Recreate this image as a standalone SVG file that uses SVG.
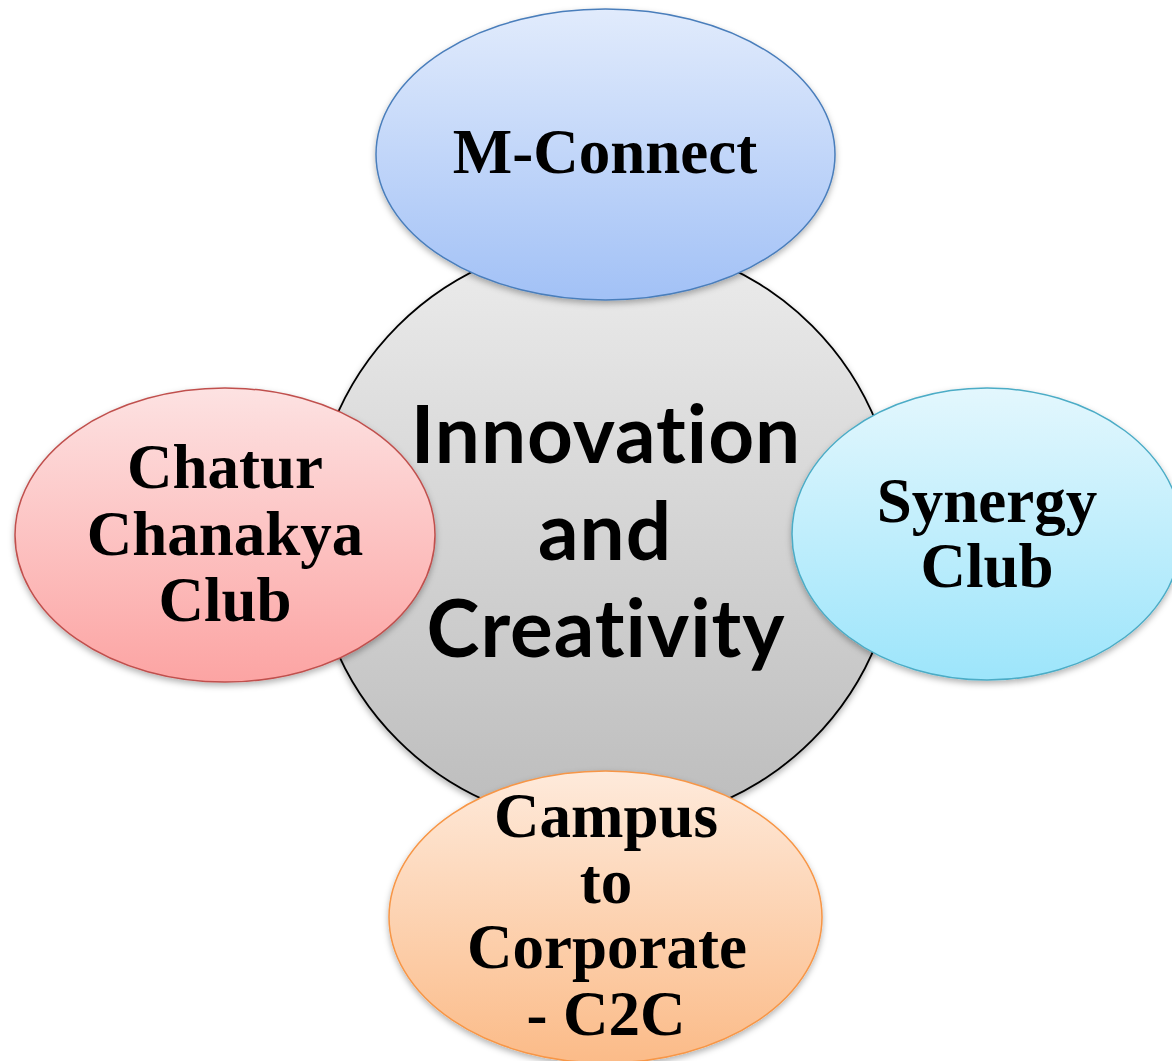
<svg xmlns="http://www.w3.org/2000/svg" width="1172" height="1061" viewBox="0 0 1172 1061">
<defs>
<linearGradient id="gCenter" x1="0" y1="0" x2="0" y2="1"><stop offset="0" stop-color="#ececec"/><stop offset="1" stop-color="#bcbcbc"/></linearGradient>
<linearGradient id="gBlue" x1="0" y1="0" x2="0" y2="1"><stop offset="0" stop-color="#e1ebfc"/><stop offset="1" stop-color="#a2c1f6"/></linearGradient>
<linearGradient id="gRed" x1="0" y1="0" x2="0" y2="1"><stop offset="0" stop-color="#fde2e2"/><stop offset="1" stop-color="#fca4a3"/></linearGradient>
<linearGradient id="gCyan" x1="0" y1="0" x2="0" y2="1"><stop offset="0" stop-color="#e3f7fd"/><stop offset="1" stop-color="#9de5fb"/></linearGradient>
<linearGradient id="gOrange" x1="0" y1="0" x2="0" y2="1"><stop offset="0" stop-color="#feeadb"/><stop offset="1" stop-color="#fbbb88"/></linearGradient>
<filter id="shadow" x="-10%" y="-10%" width="120%" height="125%"><feDropShadow dx="0" dy="3" stdDeviation="3" flood-color="#000" flood-opacity="0.3"/></filter>
</defs>
<style>
.sat{font-family:"Liberation Serif","Times New Roman",serif;font-weight:bold;font-size:63px;fill:#000;text-anchor:middle}
.ctr{font-family:Lato,"Open Sans",sans-serif;font-weight:bold;font-size:80px;fill:#000;text-anchor:middle;font-variant-ligatures:none;font-feature-settings:"liga" 0}
</style>
<g id="connectors"/>
<g id="center">
<circle cx="605" cy="533" r="293" fill="url(#gCenter)" stroke="#000" stroke-width="1.8" filter="url(#shadow)"/>
<text class="ctr" x="606" y="463" letter-spacing="1">Innovation</text>
<text class="ctr" x="605" y="560" letter-spacing="1">and</text>
<text class="ctr" x="606" y="657" letter-spacing="1">Creativity</text>
</g>
<g id="m-connect">
<ellipse cx="605.5" cy="154.5" rx="229.5" ry="145.5" fill="url(#gBlue)" stroke="#4a7ebb" stroke-width="1.5" filter="url(#shadow)"/>
<text class="sat" x="605" y="173">M-Connect</text>
</g>
<g id="chatur">
<ellipse cx="225" cy="535" rx="210" ry="147" fill="url(#gRed)" stroke="#c0504d" stroke-width="1.5" filter="url(#shadow)"/>
<text class="sat" x="225" y="488">Chatur</text>
<text class="sat" x="225" y="555">Chanakya</text>
<text class="sat" x="225" y="621">Club</text>
</g>
<g id="synergy">
<ellipse cx="987" cy="534" rx="195" ry="146" fill="url(#gCyan)" stroke="#4bacc6" stroke-width="1.5" filter="url(#shadow)"/>
<text class="sat" x="987" y="522">Synergy</text>
<text class="sat" x="987" y="587">Club</text>
</g>
<g id="c2c">
<ellipse cx="605.5" cy="917" rx="216.5" ry="146" fill="url(#gOrange)" stroke="#f79646" stroke-width="1.5" filter="url(#shadow)"/>
<text class="sat" x="606" y="837">Campus</text>
<text class="sat" x="606" y="903">to</text>
<text class="sat" x="607" y="968">Corporate</text>
<text class="sat" x="606" y="1035">- C2C</text>
</g>
</svg>
